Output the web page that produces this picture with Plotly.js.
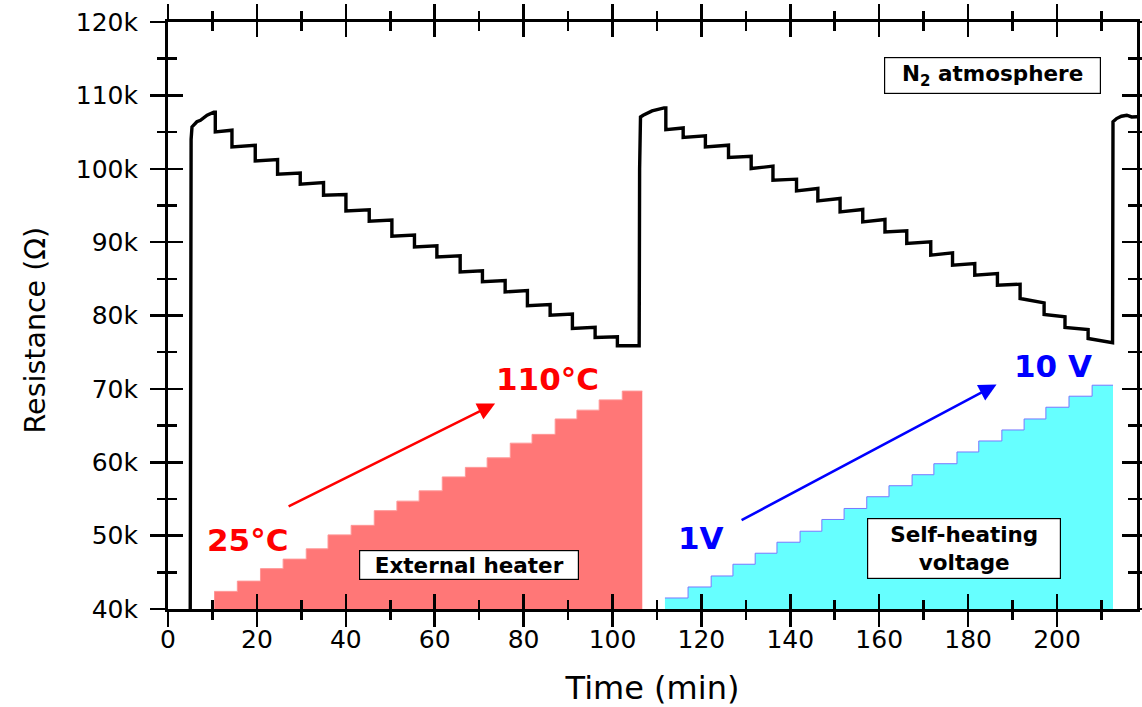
<!DOCTYPE html>
<html>
<head>
<meta charset="utf-8">
<script src="https://cdn.plot.ly/plotly-3.0.1.min.js"></script>
<style>html,body{margin:0;padding:0;background:#fff;}#chart{width:1142px;height:707px;}</style>
</head>
<body>
<div id="chart"></div>
<script>
// Resistance trace (time in min, resistance in kΩ)
const timeMin = [5.0, 5.2, 5.4, 6.5, 7.3, 8.8, 10.3, 10.64, 10.64, 14.39, 14.39, 19.63, 19.63, 24.65, 24.65, 29.75, 29.75, 34.99, 34.99, 40.03, 40.03, 45.27, 45.27, 50.37, 50.37, 55.45, 55.45, 60.49, 60.49, 65.73, 65.73, 70.74, 70.74, 75.85, 75.85, 80.86, 80.86, 85.97, 85.97, 90.98, 90.98, 96.09, 96.09, 101.1, 101.1, 106.0,
  106.1, 106.3, 106.9, 108.9, 111.6, 112.0, 112.0, 115.9, 115.9, 120.9, 120.9, 126.1, 126.1, 131.2, 131.2, 136.1, 136.1, 141.4, 141.4, 146.2, 146.2, 151.2, 151.2, 156.3, 156.3, 161.3, 161.3, 166.2, 166.2, 171.6, 171.6, 176.5, 176.5, 181.5, 181.5, 186.6, 186.6, 191.7, 191.7, 197.1, 197.1, 201.8, 201.8, 207.0, 207.0, 212.1, 212.5,
  212.6, 213.4, 214.5, 215.7, 216.8, 218.5];
const resistanceK = [39.0, 104.0, 105.7, 106.4, 106.6, 107.3, 107.7, 107.7, 105.02, 105.25, 102.98, 103.2, 101.07, 101.26, 99.26, 99.4, 97.89, 98.13, 96.4, 96.5, 94.26, 94.4, 92.85, 93.0, 90.81, 90.95, 89.35, 89.5, 87.99, 88.15, 85.95, 86.1, 84.59, 84.75, 83.22, 83.4, 81.32, 81.5, 80.05, 80.2, 78.24, 78.4, 77.01, 77.1, 75.87, 75.87,
  100.0, 107.06, 107.29, 107.88, 108.29, 108.29, 105.34, 105.56, 104.26, 104.48, 102.98, 103.21, 101.53, 101.71, 100.03, 100.35, 98.44, 98.58, 96.98, 97.31, 95.62, 95.95, 94.12, 94.45, 92.76, 93.09, 91.4, 91.53, 89.82, 90.03, 88.22, 88.54, 86.86, 87.09, 85.5, 85.73, 84.14, 84.27, 82.32, 81.72, 80.14, 79.82, 78.37, 78.1, 76.87, 76.33, 76.3,
  106.4, 106.84, 107.16, 107.29, 107.06, 107.1];

// External heater staircase (25 °C -> 110 °C), heights as drawn on the resistance scale
const heaterTime  = [10.4, 15.6, 20.8, 25.9, 31.1, 36.0, 41.2, 46.4, 51.5, 56.5, 61.7, 66.9, 71.8, 77.0, 81.9, 87.1, 92.0, 97.0, 102.2, 106.7];
const heaterLevel = [42.4, 43.8, 45.5, 46.8, 48.2, 50.1, 51.4, 53.4, 54.7, 56.1, 58.0, 59.3, 60.6, 62.6, 63.8, 65.9, 67.1, 68.5, 69.7, 69.7];

// Self-heating voltage staircase (1 V -> 10 V), heights as drawn on the resistance scale
const voltageTime  = [111.8, 117.0, 122.2, 127.1, 132.1, 137.0, 142.2, 147.1, 152.1, 157.2, 162.2, 167.4, 172.3, 177.5, 182.4, 187.6, 192.6, 197.5, 202.7, 207.9, 212.6];
const voltageLevel = [41.5, 43.0, 44.5, 46.1, 47.6, 49.1, 50.6, 52.2, 53.7, 55.3, 56.8, 58.3, 59.8, 61.4, 62.9, 64.4, 65.9, 67.5, 69.0, 70.5, 70.5];

const xRange = [0, 218];
const yRange = [40, 120];
const FONT = 'DejaVu Sans, Liberation Sans, Arial, sans-serif';

const traces = [
  {x: heaterTime, y: heaterLevel, type: 'scatter', mode: 'lines', line: {shape: 'hv', color: 'rgb(255,150,150)', width: 1},
   fill: 'tozeroy', fillcolor: 'rgb(255,119,119)', hoverinfo: 'skip', showlegend: false},
  {x: voltageTime, y: voltageLevel, type: 'scatter', mode: 'lines', line: {shape: 'hv', color: 'rgb(120,120,255)', width: 1},
   fill: 'tozeroy', fillcolor: 'rgb(102,255,255)', hoverinfo: 'skip', showlegend: false},
  {x: timeMin, y: resistanceK, type: 'scatter', mode: 'lines', line: {color: 'black', width: 3.4}, showlegend: false},
  {x: [], y: [], xaxis: 'x2', yaxis: 'y2', type: 'scatter', mode: 'lines', showlegend: false, hoverinfo: 'skip'}
];

const tickStyle = {tickcolor: 'black', tickwidth: 2.5, showgrid: false, zeroline: false};

const layout = {
  width: 1142, height: 707,
  margin: {l: 168, r: 5, t: 22, b: 98},
  paper_bgcolor: 'white', plot_bgcolor: 'white',
  showlegend: false,
  // main axes: labels + inward half of the crossing ticks
  xaxis: Object.assign({}, tickStyle, {
    range: xRange, tick0: 0, dtick: 20, ticks: 'inside', ticklen: 15, ticklabelstandoff: 6,
    showline: true, linecolor: 'black', linewidth: 3, mirror: 'ticks',
    minor: {dtick: 10, ticks: 'inside', ticklen: 9, tickwidth: 2.5, tickcolor: 'black'},
    tickfont: {family: FONT, size: 25, color: 'black'},
    title: {text: 'Time (min)', font: {family: FONT, size: 32, color: 'black'}, standoff: 25}
  }),
  yaxis: Object.assign({}, tickStyle, {
    range: yRange, tick0: 40, dtick: 10, ticksuffix: 'k', ticks: 'inside', ticklen: 15, ticklabelstandoff: 22,
    showline: true, linecolor: 'black', linewidth: 3, mirror: 'ticks',
    minor: {dtick: 5, ticks: 'inside', ticklen: 9, tickwidth: 2.5, tickcolor: 'black'},
    tickfont: {family: FONT, size: 25, color: 'black'}
  }),
  // overlay axes: outward half of the crossing ticks
  xaxis2: Object.assign({}, tickStyle, {
    overlaying: 'x', anchor: 'y2', range: xRange, tick0: 0, dtick: 20, ticks: 'outside', ticklen: 15,
    showline: true, linecolor: 'black', linewidth: 3, mirror: 'ticks', showticklabels: false,
    minor: {dtick: 10, ticks: 'outside', ticklen: 8, tickwidth: 2.5, tickcolor: 'black'}
  }),
  yaxis2: Object.assign({}, tickStyle, {
    overlaying: 'y', anchor: 'x2', range: yRange, tick0: 40, dtick: 10, ticks: 'outside', ticklen: 15,
    showline: true, linecolor: 'black', linewidth: 3, mirror: 'ticks', showticklabels: false,
    minor: {dtick: 5, ticks: 'outside', ticklen: 8, tickwidth: 2.5, tickcolor: 'black'}
  }),
  annotations: [
    {x: -0.137, y: 0.475, xref: 'paper', yref: 'paper', text: 'Resistance (Ω)', textangle: -90, showarrow: false,
     xanchor: 'center', yanchor: 'middle', font: {family: FONT, size: 28.5, color: 'black'}},
    {x: 185.6, y: 112.74, xref: 'x', yref: 'y', text: '<b>N<sub>2</sub> atmosphere</b>', showarrow: false,
     font: {family: FONT, size: 21.5, color: 'black'}, bgcolor: 'white', bordercolor: 'black', borderwidth: 1.2, borderpad: 0, width: 215, height: 35},
    {x: 67.8, y: 46.0, xref: 'x', yref: 'y', text: '<b>External heater</b>', showarrow: false,
     font: {family: FONT, size: 21.5, color: 'black'}, bgcolor: 'white', bordercolor: 'black', borderwidth: 1.2, borderpad: 0, width: 218, height: 28},
    {x: 179.0, y: 48.3, xref: 'x', yref: 'y', text: '<b>Self-heating<br>voltage</b>', showarrow: false,
     font: {family: FONT, size: 21.5, color: 'black'}, bgcolor: 'white', bordercolor: 'black', borderwidth: 1.2, borderpad: 0, width: 192, height: 59},
    {x: 17.8, y: 49.4, xref: 'x', yref: 'y', text: '<b>25°C</b>', showarrow: false, font: {family: FONT, size: 31, color: 'red'}},
    {x: 85.3, y: 71.3, xref: 'x', yref: 'y', text: '<b>110°C</b>', showarrow: false, font: {family: FONT, size: 31, color: 'red'}},
    {x: 119.9, y: 49.7, xref: 'x', yref: 'y', text: '<b>1V</b>', showarrow: false, font: {family: FONT, size: 31, color: 'blue'}},
    {x: 199.1, y: 73.1, xref: 'x', yref: 'y', text: '<b>10 V</b>', showarrow: false, font: {family: FONT, size: 31, color: 'blue'}},
    {x: 73.6, y: 68.0, ax: 26.8, ay: 53.9, xref: 'x', yref: 'y', axref: 'x', ayref: 'y', text: '', showarrow: true,
     arrowhead: 2, arrowsize: 1.4, arrowwidth: 2.5, arrowcolor: 'red', standoff: 0, startstandoff: 0},
    {x: 186.4, y: 70.6, ax: 128.7, ay: 52.0, xref: 'x', yref: 'y', axref: 'x', ayref: 'y', text: '', showarrow: true,
     arrowhead: 2, arrowsize: 1.4, arrowwidth: 2.5, arrowcolor: 'blue', standoff: 0, startstandoff: 0}
  ]
};

Plotly.newPlot('chart', traces, layout, {staticPlot: true, displayModeBar: false});
</script>
</body>
</html>
